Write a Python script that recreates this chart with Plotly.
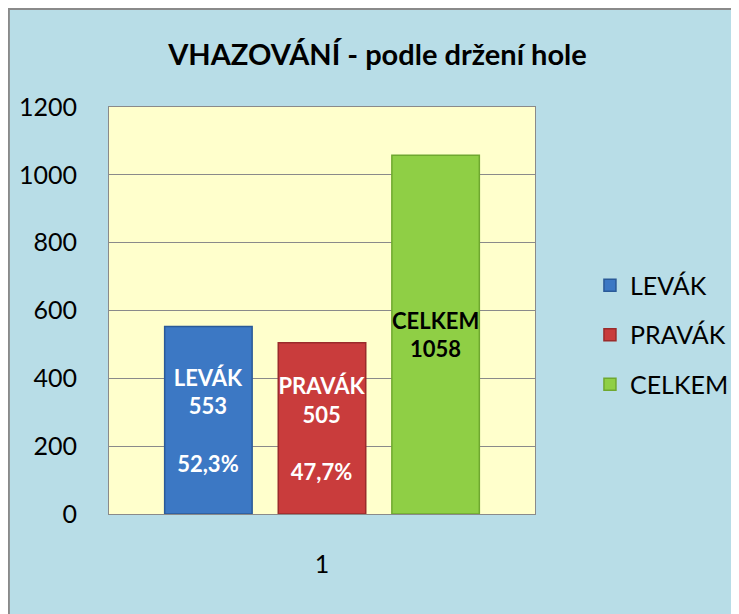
import plotly.graph_objects as go

# data
category = ["1"]
series = ["LEVÁK", "PRAVÁK", "CELKEM"]
values = [553, 505, 1058]
shares = ["52,3%", "47,7%", None]
colors = ["#3c78c4", "#c93c3c", "#8fcf45"]
edges = ["#2a5a98", "#9a2b2b", "#6fa830"]
text_colors = ["white", "white", "black"]

FONT = "Lato, 'Open Sans', sans-serif"

fig = go.Figure()
for name, v, pct, c, ec, tc in zip(series, values, shares, colors, edges, text_colors):
    label = f"{name}<br>{v}"
    if pct:
        label += f"<br> <br>{pct}"
    fig.add_trace(go.Bar(
        x=category, y=[v], name=name, legendgroup=name,
        marker=dict(color=c, line=dict(color=ec, width=1.5)),
        text=[label], textposition="inside", insidetextanchor="middle",
        textangle=0, constraintext="none",
        textfont=dict(family=FONT, size=22, color=tc, weight="bold"),
    ))

# grey frame round the whole chart
fig.add_shape(type="rect", xref="paper", yref="paper",
              x0=-0.235, x1=1.8, y0=-0.6, y1=1.241,
              fillcolor="rgba(0,0,0,0)", line=dict(color="#8a8a8a", width=2),
              layer="below")

fig.update_layout(
    width=739, height=614,
    paper_bgcolor="#b8dde7", plot_bgcolor="#ffffcc",
    font=dict(family=FONT, color="black"),
    margin=dict(l=101, r=212, t=99, b=108),
    title=dict(text="<b>VHAZOVÁNÍ - podle držení hole</b>",
               x=0.5, xref="container", xanchor="center",
               y=0.923, yanchor="middle",
               font=dict(size=29, family=FONT)),
    barmode="group", bargap=0.2, bargroupgap=0.23,
    showlegend=True,
    legend=dict(x=1.129, xanchor="left", y=0.44, yanchor="middle",
                font=dict(size=25, family=FONT), tracegroupgap=14,
                bgcolor="rgba(0,0,0,0)"),
    xaxis=dict(type="category", showgrid=False, showline=True, mirror=True,
               linecolor="#8a8a8a", linewidth=1,
               ticks="", tickfont=dict(size=25), ticklabelstandoff=28),
    yaxis=dict(range=[0, 1200], dtick=200, showgrid=True,
               gridcolor="#8a8a8a", gridwidth=1, zeroline=False,
               showline=True, mirror=True, linecolor="#8a8a8a", linewidth=1,
               ticks="", tickfont=dict(size=25), ticklabelstandoff=26),
)

fig.write_html("out.html")
